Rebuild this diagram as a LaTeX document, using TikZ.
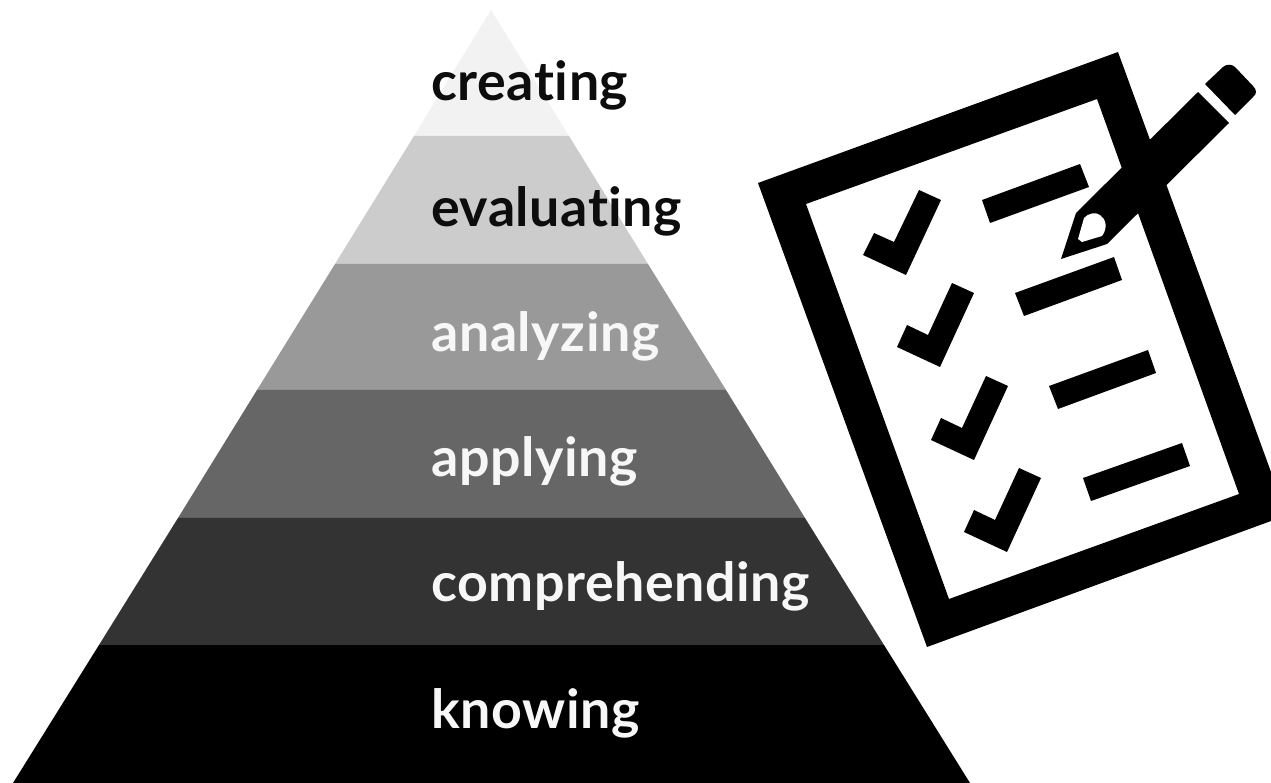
\documentclass[tikz,border=0pt]{standalone}
\usepackage{fontspec}
\newfontfamily\levelfont[LetterSpace=1,Ligatures=CommonOff]{Lato}
\tikzset{
  level/.style={anchor=base west,inner sep=0pt,font=\levelfont\bfseries\fontsize{30.6}{36}\selectfont},
  darklevel/.style={level,text=black!95!white},
  lightlevel/.style={level,text=white!97!black}
}

\begin{document}
\begin{tikzpicture}[x=0.02cm,y=-0.02cm]
\useasboundingbox (0,0) rectangle (1271,783);
% pyramid
\fill[black!5] (491,10) -- (569,136) -- (414,136) -- cycle;
\fill[black!20] (414,136) -- (569,136) -- (648,264) -- (335,264) -- cycle;
\fill[black!40] (335,264) -- (648,264) -- (726,390) -- (257,390) -- cycle;
\fill[black!60] (257,390) -- (726,390) -- (805,518) -- (178,518) -- cycle;
\fill[black!80] (178,518) -- (805,518) -- (884,645) -- (99,645) -- cycle;
\fill[black] (99,645) -- (884,645) -- (970,783) -- (13,783) -- cycle;
\node[darklevel] (creating) at (431,101) {creating};
\node[darklevel] (evaluating) at (431,227) {evaluating};
\node[lightlevel] (analyzing) at (431,352) {analyzing};
\node[lightlevel] (applying) at (431,477) {applying};
\node[lightlevel] (comprehending) at (431,602) {comprehending};
\node[lightlevel] (knowing) at (431,728) {knowing};
% sheet
\fill[even odd rule] (758,183) -- (1118,52) -- (1271,472) -- (1271,521) -- (927,647) -- cycle
  (806,204) -- (1097,99) -- (1239,494) -- (949,599) -- cycle;
% ticks
\fill (919,190) -- (941,200) -- (906,275) -- (863,255) -- (874,233) -- (894,242) -- cycle;
\fill (952,283) -- (974,293) -- (940,367) -- (897,347) -- (907,325) -- (928,335) -- cycle;
\fill (986,376) -- (1008,386) -- (974,460) -- (931,440) -- (941,418) -- (962,428) -- cycle;
\fill (1019,468) -- (1041,478) -- (1007,552) -- (964,532) -- (974,510) -- (995,520) -- cycle;
% lines
\fill (982,200) -- (1080,164) -- (1089,187) -- (990,223) -- cycle;
\fill (1015,293) -- (1114,257) -- (1122,280) -- (1024,316) -- cycle;
\fill (1049,386) -- (1148,350) -- (1156,373) -- (1058,409) -- cycle;
\fill (1083,478) -- (1182,443) -- (1190,466) -- (1091,501) -- cycle;
% pencil
\fill (1061,259) -- (1076,213) -- (1198,92) -- (1229,123) -- (1107,244) -- cycle;
\fill[white] (1078,239) -- (1084,218) .. controls (1088,213) and (1096,212) .. (1100,215)
  .. controls (1106,219) and (1108,228) .. (1102,236) -- (1082,242) -- cycle;
\fill (1205,84) -- (1223,67) .. controls (1226,64) and (1232,64) .. (1235,67)
  -- (1253,86) .. controls (1257,90) and (1257,94) .. (1253,97) -- (1235,115) -- cycle;
\end{tikzpicture}
\end{document}
